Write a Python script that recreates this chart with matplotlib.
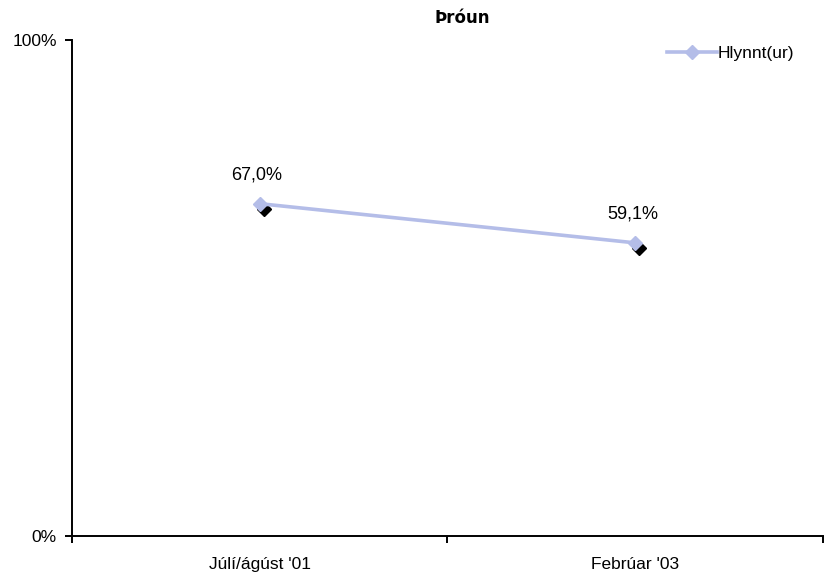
import matplotlib
matplotlib.use("Agg")
import matplotlib.pyplot as plt
from matplotlib.transforms import offset_copy

categories = ["Júlí/ágúst '01", "Febrúar '03"]
values = [67.0, 59.1]
value_labels = ["67,0%", "59,1%"]
series_name = "Hlynnt(ur)"
title = "Þróun"
ytick_values = [0, 100]
ytick_labels = ["0%", "100%"]

LAV = "#B4BDE8"
FONT = ["Liberation Sans Narrow", "Liberation Sans", "DejaVu Sans"]
plt.rcParams['font.family'] = FONT
FS = 12.5

fig = plt.figure(figsize=(8.29, 5.80), dpi=100)
ax = fig.add_axes([72/829, 1-536/580, (823-72)/829, (536-40)/580])

x = list(range(len(categories)))
# shadow markers
shadow_tr = offset_copy(ax.transData, fig=fig, x=4, y=-5, units='dots')
ax.plot(x, values, linestyle='none', marker='D', markersize=6.8,
        color='black', transform=shadow_tr, zorder=2, clip_on=False)
ax.plot(x, values, color=LAV, linewidth=2.6, marker='D', markersize=6.8,
        markeredgecolor=LAV, markerfacecolor=LAV, zorder=3, label=series_name,
        clip_on=False)

for xi, v, lab in zip(x, values, value_labels):
    ax.annotate(lab, (xi, v), xytext=(-2, 21), textcoords='offset points',
                ha='center', va='center', fontsize=13)

ax.set_xlim(-0.5, len(categories) - 0.5)
ax.set_ylim(0, 100)
ax.set_xticks(x)
ax.set_xticklabels(categories, fontsize=FS)
ax.set_xticks([i - 0.5 for i in range(len(categories) + 1)], minor=True)
ax.tick_params(axis='x', which='major', length=0, pad=15)
ax.tick_params(axis='x', which='minor', length=5, width=1.4, direction='out')
ax.set_yticks(ytick_values)
ax.set_yticklabels(ytick_labels, fontsize=FS)
ax.tick_params(axis='y', length=5, width=1.4, direction='out', pad=6)

for s in ['top', 'right']:
    ax.spines[s].set_visible(False)
for s in ['left', 'bottom']:
    ax.spines[s].set_linewidth(1.4)

fig.text(462/829, 1-18/580, title, ha='center', va='center',
         fontsize=12, fontweight='bold', family='DejaVu Sans')

leg = ax.legend(loc='center left', bbox_to_anchor=(667/829, 1-53/580),
                bbox_transform=fig.transFigure, frameon=False, fontsize=FS,
                handlelength=2.9, handletextpad=0.0, borderpad=0, borderaxespad=0,
                markerfirst=True)

fig.savefig("out.png", dpi=100)
